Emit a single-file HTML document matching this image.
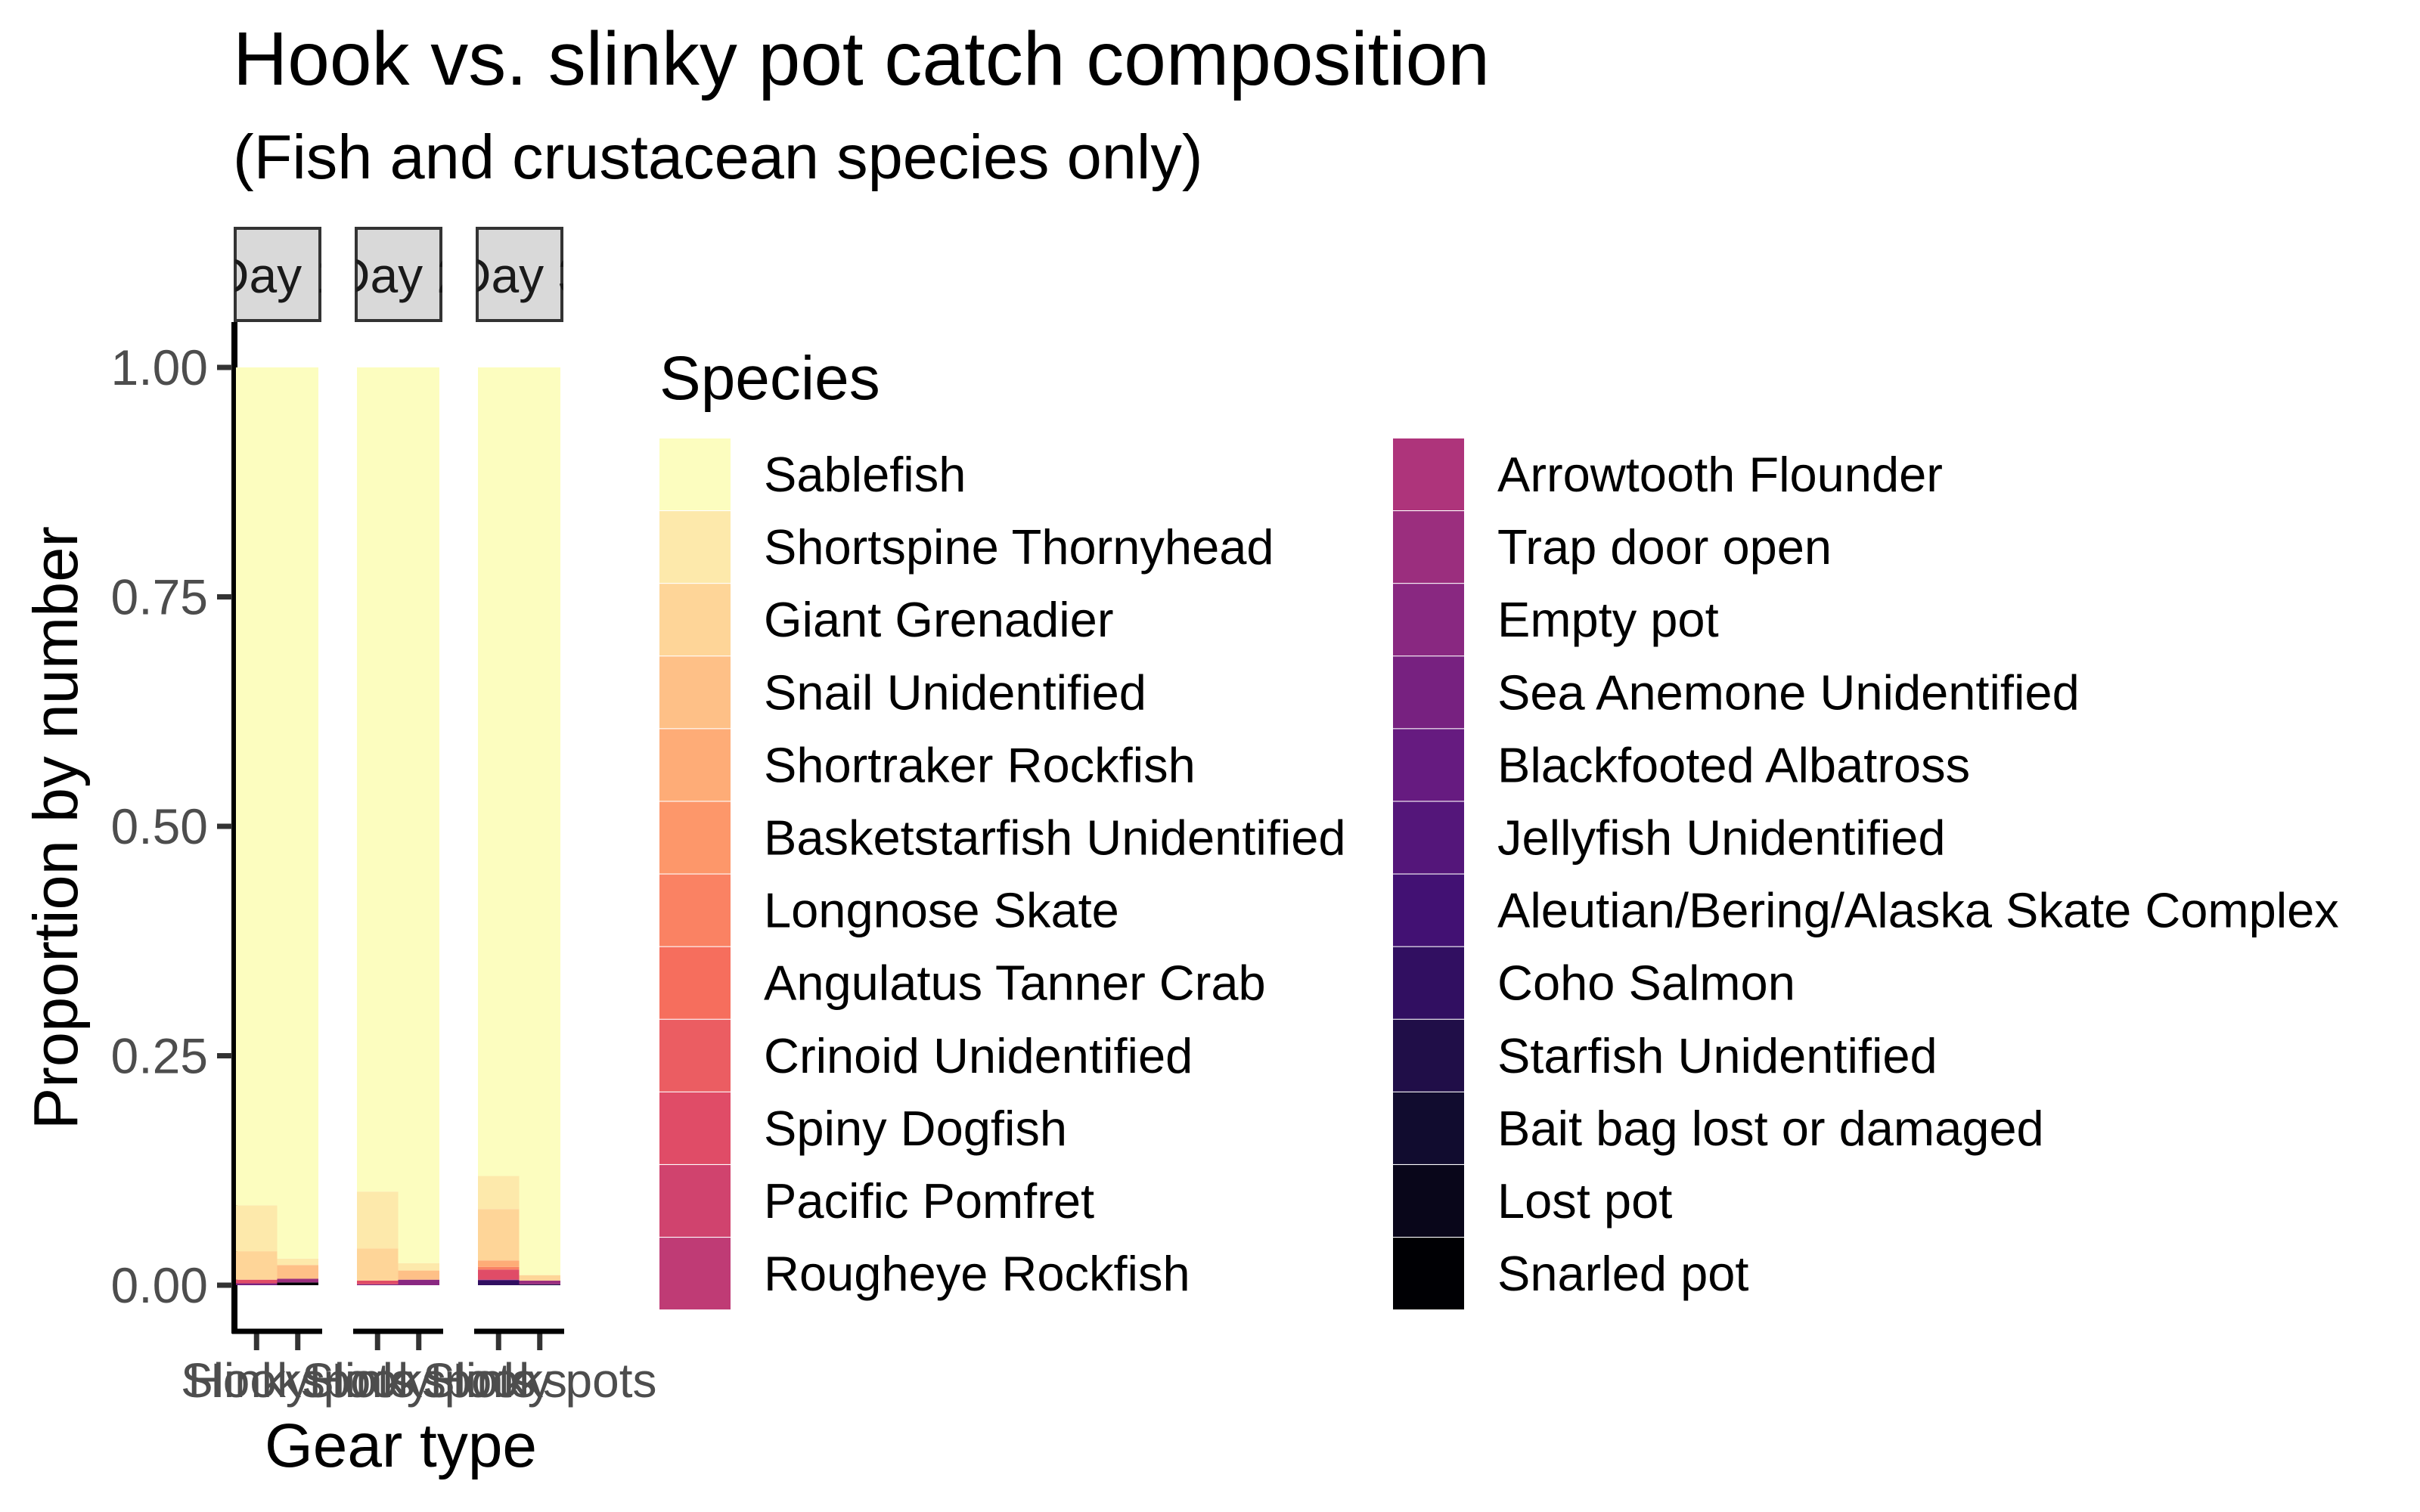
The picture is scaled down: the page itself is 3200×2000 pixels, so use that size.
<!DOCTYPE html>
<html><head><meta charset="utf-8"><style>
body{margin:0;background:#fff}
svg{display:block;font-family:"Liberation Sans",Arial,sans-serif}
</style></head><body>
<svg id="chart" width="3200" height="2000" viewBox="0 0 3200 2000" xmlns="http://www.w3.org/2000/svg">
<rect width="3200" height="2000" fill="#fff"/>
<text x="308" y="112" font-size="100" fill="#000">Hook vs. slinky pot catch composition</text>
<text x="308" y="236" font-size="83" fill="#000">(Fish and crustacean species only)</text>
<text transform="translate(102,1095) rotate(-90)" text-anchor="middle" font-size="83" fill="#000">Proportion by number</text>
<text x="530" y="1940" text-anchor="middle" font-size="82" fill="#000">Gear type</text>
<g id="plot"></g>
<g id="legend"></g>
</svg>
<script>
const species=["Sablefish","Shortspine Thornyhead","Giant Grenadier","Snail Unidentified","Shortraker Rockfish","Basketstarfish Unidentified","Longnose Skate","Angulatus Tanner Crab","Crinoid Unidentified","Spiny Dogfish","Pacific Pomfret","Rougheye Rockfish","Arrowtooth Flounder","Trap door open","Empty pot","Sea Anemone Unidentified","Blackfooted Albatross","Jellyfish Unidentified","Aleutian/Bering/Alaska Skate Complex","Coho Salmon","Starfish Unidentified","Bait bag lost or damaged","Lost pot","Snarled pot"];
const days=["Day 1","Day 2","Day 3"];
const gears=["Hooks","Slinky pots"];
const yTicks=[0,0.25,0.5,0.75,1];
const yTickLabels=["0.00","0.25","0.50","0.75","1.00"];
// non-sablefish proportions: [speciesIndex, value]
const day1Hooks=[[1,0.050],[2,0.031],[9,0.004],[15,0.002]];
const day1Slinky=[[1,0.007],[3,0.015],[13,0.004],[23,0.003]];
const day2Hooks=[[1,0.062],[2,0.035],[9,0.004],[15,0.001]];
const day2Slinky=[[1,0.008],[3,0.010],[14,0.006]];
const day3Hooks=[[1,0.036],[2,0.056],[4,0.007],[6,0.003],[9,0.011],[17,0.001],[19,0.005]];
const day3Slinky=[[2,0.006],[13,0.004],[20,0.001]];
const bars=[[day1Hooks,day1Slinky],[day2Hooks,day2Slinky],[day3Hooks,day3Slinky]];

const magmaStops=[[0,"#000004"],[0.1,"#140e36"],[0.2,"#3b0f70"],[0.3,"#641a80"],[0.4,"#8c2981"],[0.5,"#b73779"],[0.6,"#de4968"],[0.7,"#f7705c"],[0.8,"#fe9f6d"],[0.9,"#fecf92"],[1,"#fcfdbf"]];
function hx(c){return [1,3,5].map(i=>parseInt(c.substr(i,2),16));}
function magma(t){for(let i=0;i<magmaStops.length-1;i++){const[a,ca]=magmaStops[i],[b,cb]=magmaStops[i+1];if(t<=b){const f=(t-a)/(b-a),A=hx(ca),B=hx(cb);return "rgb("+A.map((v,k)=>Math.round(v+(B[k]-v)*f)).join(",")+")";}}return "#fcfdbf";}
const colors=species.map((s,i)=>magma(1-i/(species.length-1)));

const NS="http://www.w3.org/2000/svg";
function mk(tag,attrs,parent){const e=document.createElementNS(NS,tag);for(const k in attrs)e.setAttribute(k,attrs[k]);parent.appendChild(e);return e;}
const plot=document.getElementById("plot");
const y0=1700,yUnit=1214;
const yS=v=>y0-v*yUnit;
const panelX=[307,467,627],panelW=118;
const xS=(p,g)=>panelX[p]+5+g*54.5;
const barW=54.5;

const yl=mk("line",{x1:310,y1:426,x2:310,y2:1764,stroke:"#000","stroke-width":8},plot);


yTicks.forEach((v,i)=>{
  const t=mk("line",{x1:287,x2:307,y1:yS(v),y2:yS(v),stroke:"#333","stroke-width":7},plot);
  
  
  const l=mk("text",{x:275,y:yS(v)+23,"text-anchor":"end","font-size":66,fill:"#4d4d4d"},plot);
  l.textContent=yTickLabels[i];
  
  
});

days.forEach((d,p)=>{
  const px=panelX[p];
  const clip=mk("clipPath",{id:"clip"+p},plot);
  mk("rect",{x:px+4,y:300,width:panelW-4,height:125},clip);
  const sr=mk("rect",{x:px+4,y:302,width:panelW-6,height:122,fill:"#d9d9d9",stroke:"#333","stroke-width":4},plot);
  
  
  const st=mk("text",{x:px+2+panelW/2,y:387,"text-anchor":"middle","font-size":66,fill:"#1a1a1a","clip-path":"url(#clip"+p+")"},plot);
  st.textContent=d;
  
  
  gears.forEach((g,gi)=>{
    const segs=bars[p][gi];
    const other=segs.reduce((s,x)=>s+x[1],0);
    const vals=species.map(()=>0);
    vals[0]=1-other;
    segs.forEach(([k,v])=>vals[k]=v);
    let cum=0;
    for(let k=species.length-1;k>=0;k--){
      if(vals[k]<=0)continue;
      const r=mk("rect",{x:xS(p,gi),width:barW,y:yS(cum+vals[k]),height:vals[k]*yUnit,fill:colors[k]},plot);
      
      
      cum+=vals[k];
    }
    const cx=xS(p,gi)+barW/2;
    const tk=mk("line",{x1:cx,x2:cx,y1:1764,y2:1786,stroke:"#333","stroke-width":7},plot);
    
    
    const tl=mk("text",{x:cx,y:1848,"text-anchor":"middle","font-size":64,fill:"#4d4d4d"},plot);
    tl.textContent=g;
    
    
  });
  const xl=mk("line",{x1:px,x2:px+panelW+1,y1:1761,y2:1761,stroke:"#000","stroke-width":7},plot);
  
  
});

const lg=document.getElementById("legend");
const lt=mk("text",{x:872,y:528,"font-size":82,fill:"#000"},lg);
lt.textContent="Species";


species.forEach((s,i)=>{
  const col=i<12?0:1,row=i%12;
  const kx=col?1842:872,ty=580+row*96.1;
  const r=mk("rect",{x:kx,y:ty,width:94,height:95,fill:colors[i]},lg);
  
  
  const t=mk("text",{x:kx+138,y:ty+70,"font-size":65,fill:"#000"},lg);
  t.textContent=s;
  
  
});
</script>
</body></html>
